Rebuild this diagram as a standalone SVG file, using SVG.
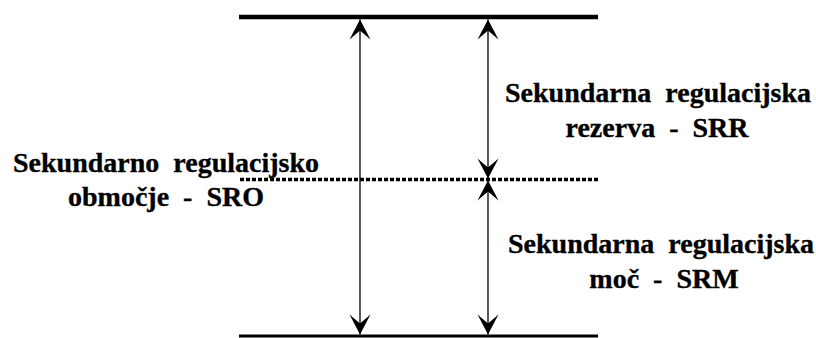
<svg xmlns="http://www.w3.org/2000/svg" width="816" height="338" viewBox="0 0 816 338">
  <style>
    .lbl { font-family: 'Liberation Serif', 'Times New Roman', serif; font-weight: 700; font-size: 28px; fill: #000; stroke: #000; stroke-width: 0.35; text-anchor: middle; }
    .level { stroke: #000; fill: none; }
    .conn { stroke: #000; stroke-width: 1.3; fill: none; }
  </style>
  <defs>
    <!-- filled arrowhead with a notched back, used at both ends of each span -->
    <marker id="head" markerUnits="userSpaceOnUse" markerWidth="24" markerHeight="24" viewBox="-22 -12 24 24" refX="0" refY="0" orient="auto-start-reverse">
      <path d="M0,0 L-20,-10.5 L-11,0 L-20,10.5 Z" fill="#000"/>
    </marker>
  </defs>

  <!-- upper limit -->
  <g id="level-max">
    <line class="level" x1="239" y1="17" x2="598" y2="17" stroke-width="4.5"/>
  </g>
  <!-- operating point (dotted) -->
  <g id="level-mid">
    <line class="level" x1="240" y1="179.5" x2="598" y2="179.5" stroke-width="3.5" stroke-dasharray="4 2"/>
  </g>
  <!-- lower limit -->
  <g id="level-min">
    <line class="level" x1="239" y1="336" x2="598" y2="336" stroke-width="3"/>
  </g>

  <g id="label-sro">
    <text class="lbl" x="166" y="172" xml:space="preserve">Sekundarno  regulacijsko</text>
    <text class="lbl" x="166" y="206" xml:space="preserve">območje  -  SRO</text>
  </g>
  <g id="label-srr">
    <text class="lbl" x="658" y="102" xml:space="preserve">Sekundarna  regulacijska</text>
    <text class="lbl" x="657" y="137" xml:space="preserve">rezerva  -  SRR</text>
  </g>
  <g id="label-srm">
    <text class="lbl" x="661" y="253" xml:space="preserve">Sekundarna  regulacijska</text>
    <text class="lbl" x="664" y="288" xml:space="preserve">moč  -  SRM</text>
  </g>

  <g id="connectors">
    <line class="conn" x1="360" y1="19.5" x2="360" y2="334.5" marker-start="url(#head)" marker-end="url(#head)"/>
    <line class="conn" x1="488" y1="19.5" x2="488" y2="178.5" marker-start="url(#head)" marker-end="url(#head)"/>
    <line class="conn" x1="488" y1="180.5" x2="488" y2="334.5" marker-start="url(#head)" marker-end="url(#head)"/>
  </g>
</svg>
